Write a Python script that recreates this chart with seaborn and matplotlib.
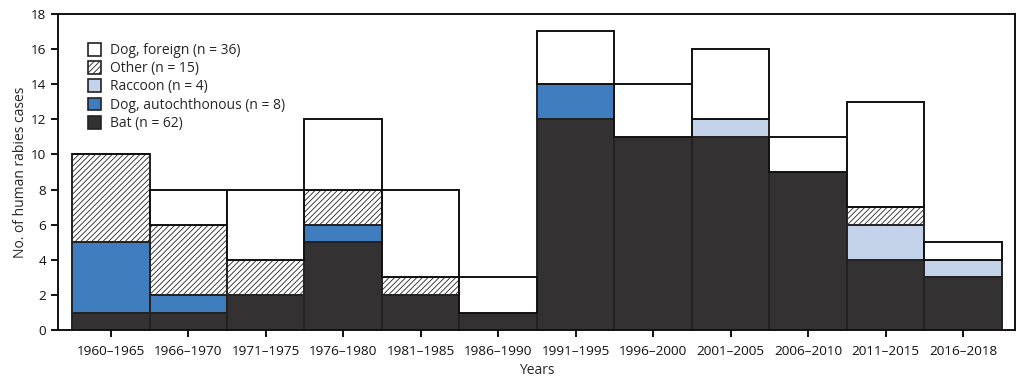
import numpy as np
import pandas as pd
import matplotlib
matplotlib.use("Agg")
import matplotlib.pyplot as plt
from matplotlib.patches import Patch
import seaborn as sns

periods = ["1960–1965", "1966–1970", "1971–1975", "1976–1980", "1981–1985", "1986–1990",
           "1991–1995", "1996–2000", "2001–2005", "2006–2010", "2011–2015", "2016–2018"]
bat = [1, 1, 2, 5, 2, 1, 12, 11, 11, 9, 4, 3]
dog_auto = [4, 1, 0, 1, 0, 0, 2, 0, 0, 0, 0, 0]
raccoon = [0, 0, 0, 0, 0, 0, 0, 0, 1, 0, 2, 1]
other = [5, 4, 2, 2, 1, 0, 0, 0, 0, 0, 1, 0]
dog_foreign = [0, 2, 4, 4, 5, 2, 3, 3, 4, 2, 6, 1]

labels = ["Bat (n = 62)", "Dog, autochthonous (n = 8)", "Raccoon (n = 4)",
          "Other (n = 15)", "Dog, foreign (n = 36)"]

sns.set_style("ticks")
plt.rcParams['font.family'] = ['Open Sans', 'DejaVu Sans']
plt.rcParams['hatch.linewidth'] = 0.6

fig = plt.figure(figsize=(10.2, 3.87), dpi=100)
ax = fig.add_axes([0.057, 0.147, 0.938, 0.817])

# stack the series, bottom to top
series = [bat, dog_auto, raccoon, other, dog_foreign]
colors = ["#333132", "#3f7dbf", "#c5d3ea", "white", "white"]
hatches = [None, None, None, "//////", None]
edges = ["#222222", "#222222", "#222222", "#222222", "#111111"]

bottom = np.zeros(len(periods))
for vals, col, h, ec in zip(series, colors, hatches, edges):
    df = pd.DataFrame({"period": periods, "n": vals})
    sns.barplot(data=df, x="period", y="n", color=col, saturation=1, width=1,
                edgecolor=ec, linewidth=1.4, hatch=h, bottom=bottom.copy(),
                errorbar=None, ax=ax)
    bottom += np.array(vals)

ax.set_xlim(-0.68, 11.67)
ax.set_ylim(0, 18)
ax.set_yticks(range(0, 19, 2))
for s in ax.spines.values():
    s.set_linewidth(1.4)
    s.set_color("#111111")
ax.tick_params(axis="both", direction="out", length=5, width=1.4, labelsize=9.7, colors="#111111")
ax.tick_params(axis="x", pad=6)
ax.set_xlabel("Years", fontsize=10, labelpad=3)
ax.set_ylabel("No. of human rabies cases", fontsize=10, labelpad=2)

handles = [Patch(facecolor=c, edgecolor="#222222", hatch=h, linewidth=1.2)
           for c, h in zip(colors, hatches)]
ax.legend(handles[::-1], labels[::-1], loc="upper left", bbox_to_anchor=(0.022, 0.935),
          frameon=False, fontsize=10, handlelength=1.0, handleheight=1.05,
          labelspacing=0.22, handletextpad=0.6, borderaxespad=0.2)

fig.savefig("out.png", dpi=100)
